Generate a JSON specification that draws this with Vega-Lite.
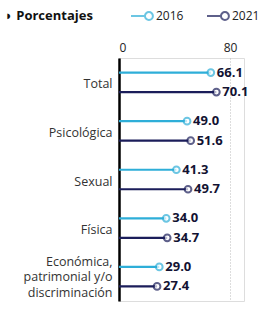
{
  "$schema": "https://vega.github.io/schema/vega-lite/v6.json",
  "width": 125,
  "height": 243,
  "autosize": {"type": "none"},
  "padding": {"left": 119, "top": 58, "right": 15, "bottom": 15},
  "background": "white",
  "title": {"text": "◗ Porcentajes", "anchor": "start", "frame": "group", "dx": -114, "offset": -19, "fontSize": 13, "fontWeight": "bold", "font": "Open Sans", "color": "#111111"},
  "data": {"values": [
    {"cat": "Total", "year": "2016", "value": 66.1},
    {"cat": "Total", "year": "2021", "value": 70.1},
    {"cat": "Psicológica", "year": "2016", "value": 49.0},
    {"cat": "Psicológica", "year": "2021", "value": 51.6},
    {"cat": "Sexual", "year": "2016", "value": 41.3},
    {"cat": "Sexual", "year": "2021", "value": 49.7},
    {"cat": "Física", "year": "2016", "value": 34.0},
    {"cat": "Física", "year": "2021", "value": 34.7},
    {"cat": "Económica, patrimonial y/o discriminación", "year": "2016", "value": 29.0},
    {"cat": "Económica, patrimonial y/o discriminación", "year": "2021", "value": 27.4}
  ]},
  "encoding": {
    "y": {"field": "cat", "type": "nominal", "sort": ["Total", "Psicológica", "Sexual", "Física", "Económica, patrimonial y/o discriminación"],
      "scale": {"paddingInner": 0, "paddingOuter": 0},
      "axis": {"title": null, "domainColor": "#000000", "domainWidth": 2.5, "ticks": false, "labelPadding": 7, "labelFontSize": 12.5, "labelColor": "#333333", "labelFont": "Open Sans", "labelLineHeight": 15.5,
        "labelOffset": {"condition": {"test": "datum.value == 'Económica, patrimonial y/o discriminación'", "value": -15}, "value": 2},
        "labelExpr": "datum.value == 'Económica, patrimonial y/o discriminación' ? ['Económica,', 'patrimonial y/o', 'discriminación'] : datum.label"}},
    "yOffset": {"field": "year", "type": "nominal", "scale": {"paddingInner": 0, "paddingOuter": 0.246}},
    "x": {"field": "value", "type": "quantitative", "scale": {"domain": [0, 90]},
      "axis": {"orient": "top", "values": [0, 80], "title": null, "domain": false, "ticks": false, "grid": true, "gridDash": [1, 2], "gridColor": "#bbbbbb", "labelFontSize": 12, "labelFont": "Open Sans", "labelColor": "#222222", "labelPadding": 4}}
  },
  "layer": [
    {"mark": {"type": "rule", "strokeWidth": 2.2},
     "encoding": {"x2": {"datum": 0},
       "stroke": {"field": "year", "type": "nominal", "scale": {"domain": ["2016", "2021"], "range": ["#2eaed8", "#1b1d5a"]},
         "legend": {"title": null, "orient": "none", "legendX": 11, "legendY": -54, "direction": "horizontal", "symbolType": "M-1,0L0.27,0M0.27,0A0.36,0.36 0 1,0 0.99,0A0.36,0.36 0 1,0 0.27,0Z", "symbolSize": 484, "symbolStrokeWidth": 2, "symbolFillColor": "white", "labelFontSize": 12, "labelFont": "Open Sans", "labelColor": "#222222", "labelOffset": 2, "columnPadding": 19}}}},
    {"mark": {"type": "point", "shape": "circle", "filled": true, "fill": "white", "strokeWidth": 2, "size": 45},
     "encoding": {"stroke": {"field": "year", "type": "nominal"}}},
    {"mark": {"type": "text", "align": "left", "baseline": "middle", "dx": 6, "fontWeight": "bold", "fontSize": 13, "font": "Open Sans", "color": "#121232"},
     "encoding": {"text": {"field": "value", "type": "quantitative", "format": ".1f"}}}
  ]
}
